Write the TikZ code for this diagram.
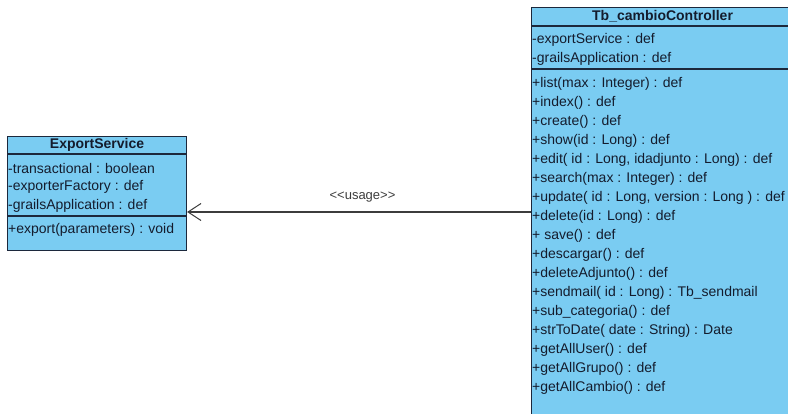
\documentclass[tikz,border=0pt]{standalone}
\usepackage{fontspec}
\setmainfont{Liberation Sans}
\usetikzlibrary{arrows.meta}

\definecolor{classfill}{RGB}{122,204,242}
\definecolor{classborder}{RGB}{28,40,60}
\definecolor{classtext}{RGB}{20,28,45}
\definecolor{usagegray}{RGB}{60,60,60}

\begin{document}
\begin{tikzpicture}[x=1pt,y=-1pt,
    classbox/.style={draw=classborder,fill=classfill,line width=1.1pt,anchor=north west,inner sep=0pt},
    classname/.style={font=\fontsize{14}{17}\selectfont\bfseries,text=classtext,inner sep=0pt},
    member/.style={font=\fontsize{14}{17}\selectfont,text=classtext,anchor=west,inner sep=0pt},
    sepline/.style={draw=classborder,line width=1.1pt}]
  \clip (0,0) rectangle (788,414);

  % ExportService
  \node[classbox,minimum width=179pt,minimum height=114pt] (exportbox) at (7,136) {};
  \draw[sepline] ([yshift=-18pt]exportbox.north west) -- ([yshift=-18pt]exportbox.north east);
  \draw[sepline] ([yshift=-80pt]exportbox.north west) -- ([yshift=-80pt]exportbox.north east);
  \node[classname] (exportname) at ([yshift=-9pt]exportbox.north) {ExportService};
  \foreach[count=\i] \m in {-transactional : boolean,-exporterFactory : def,-grailsApplication : def} {
    \node[member] (exportattr\i) at (8,{168+19*(\i-1)}) {\m};
  }
  \node[member] (exportop) at (8,230) {+export(parameters) : void};

  % Tb_cambioController
  \node[classbox,minimum width=262pt,minimum height=440pt] (ctrlbox) at (531,7) {};
  \draw[sepline] ([yshift=-19pt]ctrlbox.north west) -- ([yshift=-19pt]ctrlbox.north east);
  \draw[sepline] ([yshift=-62pt]ctrlbox.north west) -- ([yshift=-62pt]ctrlbox.north east);
  \node[classname] (ctrlname) at ([yshift=-9.5pt]ctrlbox.north) {Tb\_cambioController};
  \foreach[count=\i] \m in {-exportService : def,-grailsApplication : def} {
    \node[member] (ctrlattr\i) at (532,{40+19*(\i-1)}) {\m};
  }
  \foreach[count=\i] \m in {+list(max : Integer) : def,+index() : def,+create() : def,
      +show(id : Long) : def,{+edit( id : Long, idadjunto : Long) : def},+search(max : Integer) : def,
      {+update( id : Long, version : Long ) : def},+delete(id : Long) : def,+ save() : def,
      +descargar() : def,+deleteAdjunto() : def,+sendmail( id : Long) : Tb\_sendmail,
      +sub\_categoria() : def,+strToDate( date : String) : Date,+getAllUser() : def,
      +getAllGrupo() : def,+getAllCambio() : def} {
    \node[member] (ctrlop\i) at (532,{84+19*(\i-1)}) {\m};
  }

  % usage dependency
  \coordinate (usetip) at (exportbox.east |- 0,212);
  \draw[usagegray,line width=1.1pt,-{Straight Barb[length=13pt,width=17pt,line width=1pt]}]
    (ctrlbox.west |- usetip) -- (usetip)
    node[pos=0.49,above=9pt,inner sep=0pt,font=\fontsize{13}{15}\selectfont,text=usagegray] (usagelabel) {<\kern0pt<usage>\kern0pt>};
\end{tikzpicture}
\end{document}
